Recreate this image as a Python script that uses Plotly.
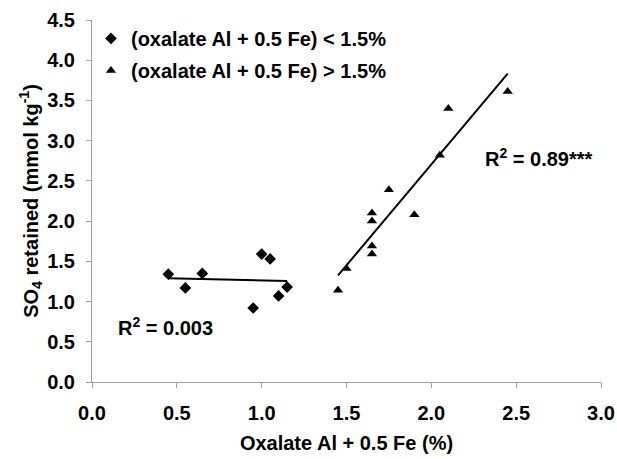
import numpy as np
import plotly.graph_objects as go

# Data
low_x = [0.45, 0.55, 0.65, 0.95, 1.00, 1.05, 1.10, 1.15]
low_y = [1.34, 1.17, 1.35, 0.92, 1.59, 1.53, 1.07, 1.18]
high_x = [1.45, 1.50, 1.65, 1.65, 1.65, 1.65, 1.75, 1.90, 2.05, 2.10, 2.45]
high_y = [1.14, 1.41, 1.59, 1.69, 2.00, 2.10, 2.39, 2.08, 2.82, 3.40, 3.61]

low_label = "(oxalate Al + 0.5 Fe) < 1.5%"
high_label = "(oxalate Al + 0.5 Fe) > 1.5%"
x_ticks = [0.0, 0.5, 1.0, 1.5, 2.0, 2.5, 3.0]
y_ticks = [0.0, 0.5, 1.0, 1.5, 2.0, 2.5, 3.0, 3.5, 4.0, 4.5]

FONT = "Liberation Sans, Arial, sans-serif"
FS = 20

def fit_line(xs, ys):
    m, b = np.polyfit(xs, ys, 1)
    x0, x1 = min(xs), max(xs)
    return [x0, x1], [m * x0 + b, m * x1 + b]

lx, ly = fit_line(low_x, low_y)
hx, hy = fit_line(high_x, high_y)

fig = go.Figure()
fig.add_trace(go.Scatter(x=low_x, y=low_y, mode="markers", name="<b>" + low_label + "</b>",
                         legendgroup="a",
                         marker=dict(symbol="diamond", size=9, color="black")))
fig.add_trace(go.Scatter(x=high_x, y=high_y, mode="markers", name="<b>" + high_label + "</b>",
                         legendgroup="b",
                         marker=dict(symbol="triangle-up", size=9, color="black")))
fig.add_trace(go.Scatter(x=lx, y=ly, mode="lines", showlegend=False,
                         line=dict(color="black", width=2)))
fig.add_trace(go.Scatter(x=hx, y=hy, mode="lines", showlegend=False,
                         line=dict(color="black", width=2)))

fig.add_annotation(x=0.14, y=0.69, text="<b>R<sup>2</sup> = 0.003</b>", showarrow=False,
                   xanchor="left", yanchor="middle",
                   font=dict(size=FS, color="black", family=FONT))
fig.add_annotation(x=2.305, y=2.79, text="<b>R<sup>2</sup> = 0.89***</b>", showarrow=False,
                   xanchor="left", yanchor="middle",
                   font=dict(size=FS, color="black", family=FONT))

axis_common = dict(showline=True, linecolor="#a0a0a0", linewidth=1, ticks="outside",
                   tickcolor="#a0a0a0", ticklen=5, showgrid=False, zeroline=False,
                   automargin=False,
                   tickfont=dict(size=FS, color="black", family=FONT))

fig.update_xaxes(range=[0, 3], tickvals=x_ticks,
                 ticktext=["<b>%.1f</b>" % v for v in x_ticks],
                 ticklabelstandoff=8,
                 title=dict(text="<b>Oxalate Al + 0.5 Fe (%)</b>", standoff=12,
                            font=dict(size=FS, color="black", family=FONT)),
                 **axis_common)
fig.update_yaxes(range=[0, 4.5], tickvals=y_ticks,
                 ticktext=["<b>%.1f</b>" % v for v in y_ticks],
                 ticklabelstandoff=7,
                 title=dict(text="<b>SO<sub>4</sub> retained (mmol kg<sup>-1</sup>)</b>", standoff=3,
                            font=dict(size=FS, color="black", family=FONT)),
                 **axis_common)

fig.update_layout(
    width=617, height=459,
    margin=dict(l=92, r=16, t=20, b=77, autoexpand=False),
    plot_bgcolor="white", paper_bgcolor="white",
    font=dict(family=FONT, color="black"),
    showlegend=True,
    legend=dict(x=-0.002, y=1.003, xanchor="left", yanchor="top",
                font=dict(size=FS, color="black", family=FONT),
                bgcolor="rgba(0,0,0,0)", itemwidth=30, tracegroupgap=3),
)

fig.write_html("out.html", config={"displayModeBar": False},
               post_script="document.body.style.margin='0';")
